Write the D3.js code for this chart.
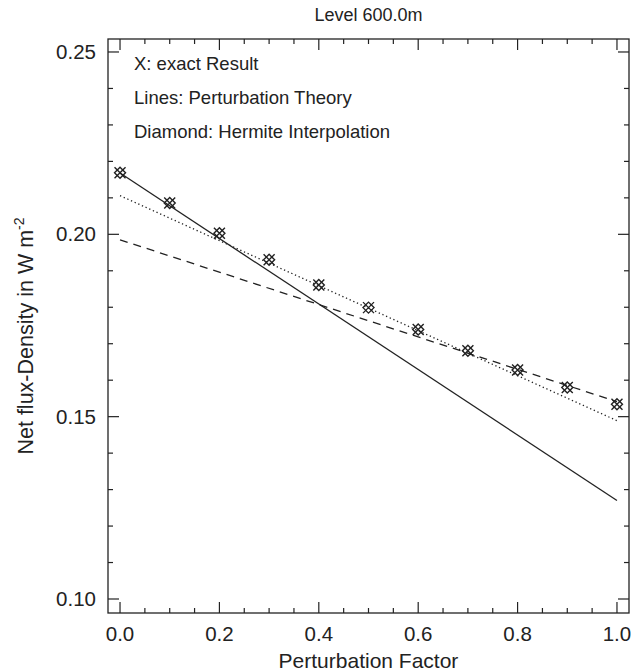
<!DOCTYPE html>
<html><head><meta charset="utf-8">
<script src="https://cdn.jsdelivr.net/npm/d3@7"></script>
<style>body{margin:0;background:#fff}svg{display:block}text{font-family:"Liberation Sans",Arial,sans-serif;fill:#222}</style>
</head><body>
<script>
const factors = [0, 0.1, 0.2, 0.3, 0.4, 0.5, 0.6, 0.7, 0.8, 0.9, 1.0];
const exactResult = [0.2169, 0.2086, 0.2003, 0.1930, 0.1861, 0.1799, 0.1739, 0.1681, 0.1628, 0.1580, 0.1534];
const solidX = [0, 1.0];
const solidY = [0.2168, 0.1270];
const dottedX = [0, 1.0];
const dottedY = [0.2106, 0.1489];
const dashedX = [0, 1.0];
const dashedY = [0.1985, 0.1541];
const xTicks = [0, 0.2, 0.4, 0.6, 0.8, 1.0];
const yTicks = [0.10, 0.15, 0.20, 0.25];
const legendLines = ["X: exact Result", "Lines: Perturbation Theory", "Diamond: Hermite Interpolation"];

const W = 632, H = 672;
const m = {left:108, right:3, top:39, bottom:59};
const svg = d3.select("body").append("svg").attr("width", W).attr("height", H);
const x = d3.scaleLinear().domain([-0.0242, 1.0242]).range([m.left, W - m.right]);
const y = d3.scaleLinear().domain([0.09616, 0.25356]).range([H - m.bottom, m.top]);
const col = "#222";

// frame
svg.append("rect").attr("x", x.range()[0]).attr("y", m.top)
  .attr("width", x.range()[1] - x.range()[0]).attr("height", (H - m.bottom) - m.top)
  .attr("fill", "none").attr("stroke", col).attr("stroke-width", 1.3);

// axes with inward ticks
const xMinor = d3.range(0, 1.0001, 0.05);
const yMinor = d3.range(0.10, 0.2501, 0.01);
const yB = H - m.bottom, yT = m.top, xL = x.range()[0], xR = x.range()[1];
const tk = svg.append("g").attr("stroke", col).attr("stroke-width", 1.2);
xMinor.forEach(v => {
  const major = xTicks.some(t => Math.abs(t - v) < 1e-6);
  const L = major ? 11 : 5;
  tk.append("line").attr("x1", x(v)).attr("x2", x(v)).attr("y1", yB).attr("y2", yB - L);
  tk.append("line").attr("x1", x(v)).attr("x2", x(v)).attr("y1", yT).attr("y2", yT + L);
});
yMinor.forEach(v => {
  const major = yTicks.some(t => Math.abs(t - v) < 1e-6);
  const L = major ? 11 : 5;
  tk.append("line").attr("y1", y(v)).attr("y2", y(v)).attr("x1", xL).attr("x2", xL + L);
  tk.append("line").attr("y1", y(v)).attr("y2", y(v)).attr("x1", xR).attr("x2", xR - L);
});
xTicks.forEach(v => svg.append("text").attr("x", x(v)).attr("y", yB + 28)
  .attr("text-anchor", "middle").attr("font-size", 20.5).text(d3.format(".1f")(v)));
yTicks.forEach(v => svg.append("text").attr("x", xL - 12).attr("y", y(v) + 7)
  .attr("text-anchor", "end").attr("font-size", 20.5).text(d3.format(".2f")(v)));

// labels
svg.append("text").attr("x", (xL + xR) / 2).attr("y", 21).attr("text-anchor", "middle")
  .attr("font-size", 18).text("Level 600.0m");
svg.append("text").attr("x", (xL + xR) / 2).attr("y", yB + 55).attr("text-anchor", "middle")
  .attr("font-size", 21).text("Perturbation Factor");
const yl = svg.append("text").attr("transform", `translate(33,${(yT + yB) / 2 + 10}) rotate(-90)`)
  .attr("text-anchor", "middle").attr("font-size", 21.5);
yl.append("tspan").text("Net flux-Density in W m");
yl.append("tspan").attr("dy", -9).attr("font-size", 14).text("-2");

// legend
legendLines.forEach((t, i) => svg.append("text").attr("x", 134).attr("y", 70 + i * 34)
  .attr("font-size", 18.5).text(t));

// lines
const line = d3.line().x(d => x(d[0])).y(d => y(d[1]));
svg.append("path").datum(d3.zip(solidX, solidY)).attr("d", line)
  .attr("fill", "none").attr("stroke", col).attr("stroke-width", 1.3);
svg.append("path").datum(d3.zip(dottedX, dottedY)).attr("d", line)
  .attr("fill", "none").attr("stroke", col).attr("stroke-width", 1.3).attr("stroke-dasharray", "1.3,2.7");
svg.append("path").datum(d3.zip(dashedX, dashedY)).attr("d", line)
  .attr("fill", "none").attr("stroke", col).attr("stroke-width", 1.3).attr("stroke-dasharray", "8,6");

// markers: X + diamond
const mk = svg.append("g").attr("stroke", col).attr("stroke-width", 1.4).attr("fill", "none");
factors.forEach((f, i) => {
  const cx = x(f), cy = y(exactResult[i]), s = 5.5;
  mk.append("path").attr("d", `M${cx-s},${cy-s}L${cx+s},${cy+s}M${cx-s},${cy+s}L${cx+s},${cy-s}`);
  mk.append("path").attr("d", `M${cx},${cy-s}L${cx+s},${cy}L${cx},${cy+s}L${cx-s},${cy}Z`);
});
</script>
</body></html>
